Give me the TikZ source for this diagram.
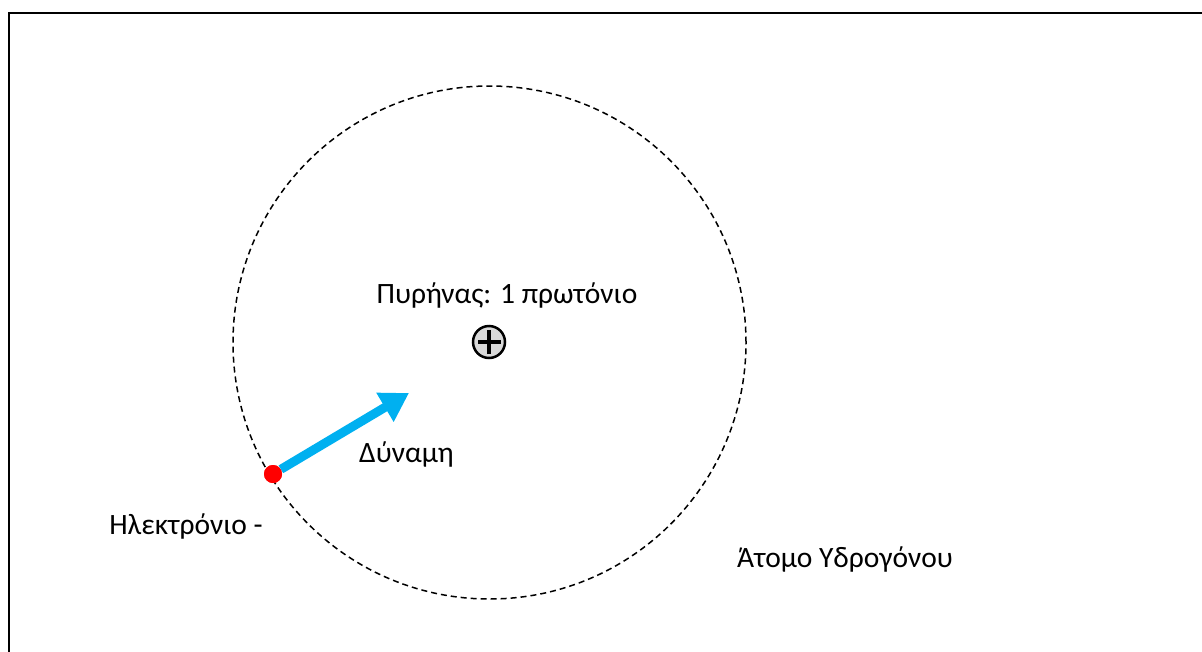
\documentclass[tikz,border=0pt]{standalone}
\usepackage{fontspec}
\setmainfont{Carlito}
\usetikzlibrary{arrows.meta}
\definecolor{forceblue}{HTML}{00B0F0}
\definecolor{nucgray}{HTML}{D9D9D9}
\tikzset{
  label text/.style={font=\fontsize{29.5}{35}\selectfont, inner sep=0pt, anchor=base},
  orbit/.style={draw=black, line width=1.5pt, dash pattern=on 6pt off 4pt},
  frame/.style={draw=black, line width=2.5pt},
  force/.style={draw=forceblue, line width=9pt, -{Triangle[length=28pt,width=32pt]}},
  charge/.style={line width=3.5pt},
}
\begin{document}
\begin{tikzpicture}[x=1pt,y=-1pt]
  \useasboundingbox (0,0) rectangle (1202,651);
  \begin{scope}
    \clip (0,0) rectangle (1202,651);
    \draw[frame] (9,13) rectangle (1220,670);
  \end{scope}
  % orbit of the electron
  \node[orbit, circle, minimum size=513pt, inner sep=0pt] (orbit) at (489.5,342.5) {};
  % nucleus
  \node[circle, draw=black, fill=nucgray, line width=2.5pt, minimum size=32pt, inner sep=0pt] (nuc) at (489,342) {};
  \draw[charge] ([xshift=-11pt]nuc.center) -- ([xshift=12pt]nuc.center);
  \draw[charge] ([yshift=-12pt]nuc.center) -- ([yshift=12pt]nuc.center);
  % electron and the force on it
  \node[circle, fill=red, minimum size=18pt, inner sep=0pt] (e) at (273,474) {};
  \coordinate (tip) at (409,393);
  \draw[force] (e) -- (tip);
  \node[circle, fill=red, minimum size=18pt, inner sep=0pt] at (e.center) {};
  % labels
  \node[label text] (nuclabel) at (507,303) {Πυρήνας: 1 πρωτόνιο};
  \node[label text] (forcelabel) at (406.5,462) {Δύναμη};
  \node[label text] (elabel) at (186,534) {Ηλεκτρόνιο -};
  \node[label text] (atomlabel) at (845,567) {Άτομο Υδρογόνου};
\end{tikzpicture}
\end{document}
